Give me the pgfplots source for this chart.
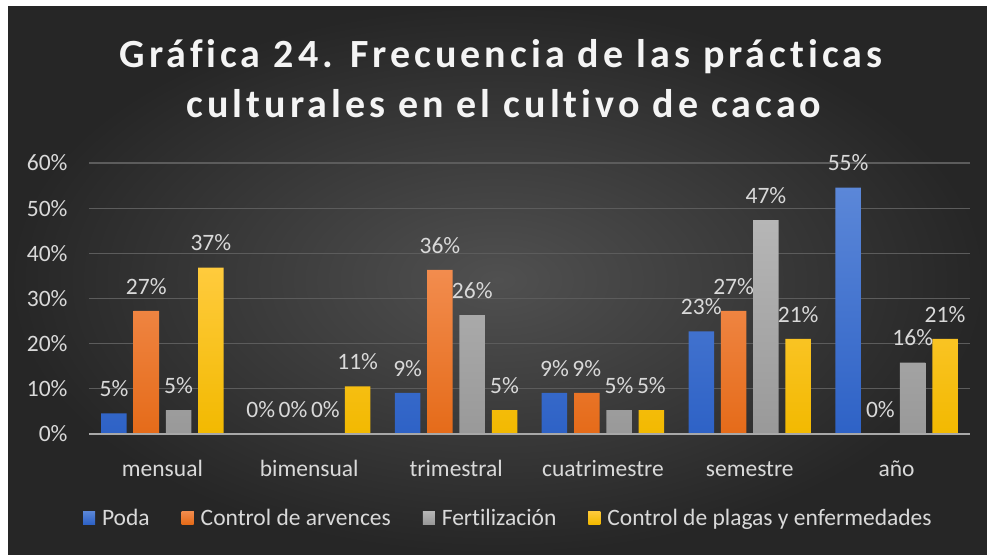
\documentclass[border=0pt]{standalone}
\usepackage{fontspec}
\setmainfont{Carlito}[Ligatures={NoCommon,TeX}]
\usepackage{pgfplots}
\pgfplotsset{compat=1.18}
\definecolor{bgin}{HTML}{505050}
\definecolor{bgout}{HTML}{262626}
\definecolor{gridcol}{HTML}{5C5C5C}
\definecolor{axiscol}{HTML}{A8A8A8}
\definecolor{labcol}{HTML}{D9D9D9}
\definecolor{titlecol}{HTML}{F4F4F4}
\definecolor{podatop}{HTML}{5B87D8}
\definecolor{podabot}{HTML}{2E62C6}
\definecolor{podamid}{HTML}{4472C4}
\definecolor{arvtop}{HTML}{F28C4E}
\definecolor{arvbot}{HTML}{E56B19}
\definecolor{arvmid}{HTML}{ED7D31}
\definecolor{fertop}{HTML}{B6B6B6}
\definecolor{ferbot}{HTML}{999999}
\definecolor{fermid}{HTML}{A5A5A5}
\definecolor{platop}{HTML}{FFCB3D}
\definecolor{plabot}{HTML}{F2B900}
\definecolor{plamid}{HTML}{FFC000}
\begin{document}
\begin{tikzpicture}
\fill[white] (0pt,0pt) rectangle (987pt,-554pt);
\shade[inner color=bgin, outer color=bgout] (8pt,-6pt) rectangle (987pt,-554pt);
\node[anchor=base, text=titlecol, font=\fontsize{40}{48}\selectfont\bfseries\addfontfeatures{LetterSpace=10}] at (501pt,-67pt) {Gráfica 24. Frecuencia de las prácticas};
\node[anchor=base, text=titlecol, font=\fontsize{40}{48}\selectfont\bfseries\addfontfeatures{LetterSpace=10}] at (504pt,-117pt) {culturales en el cultivo de cacao};
\begin{axis}[
  at={(89pt,-434pt)}, anchor=south west,
  scale only axis, width=881pt, height=271pt,
  xmin=-0.5, xmax=5.5, ymin=0, ymax=60,
  ytick={0,10,20,30,40,50,60},
  yticklabels={0\%,10\%,20\%,30\%,40\%,50\%,60\%},
  xtick={0,1,2,3,4,5},
  xticklabels={mensual,bimensual,trimestral,cuatrimestre,semestre,año},
  ybar=6.8pt, bar width=25.5pt,
  axis line style={draw=none}, major tick style={draw=none},
  ymajorgrids, grid style={gridcol, line width=1.3pt},
  tick label style={text=labcol, font=\fontsize{23.5}{28}\selectfont},
  yticklabel style={xshift=-18pt},
  xticklabel style={anchor=base, yshift=-38pt},
  nodes near coords={\pgfmathprintnumber[fixed,precision=0,assume math mode=true]{\pgfplotspointmeta}\%},
  every node near coord/.append style={text=labcol, font=\fontsize{23.5}{28}\selectfont, yshift=13pt},
  legend columns=4,
  legend style={at={(0.476,-0.31)}, anchor=center, draw=none, fill=none, text=labcol,
    font=\fontsize{23.5}{28}\selectfont,
    /tikz/every even column/.append style={column sep=30pt}},
]
\addplot[draw=none, top color=podatop, bottom color=podabot,
  legend image code/.code={\fill[podamid] (0pt,-6pt) rectangle (12pt,7pt);\path (0pt,0pt) -- (17pt,0pt);}]
  coordinates {(0,4.545) (1,0) (2,9.091) (3,9.091) (4,22.727) (5,54.545)};
\addlegendentry{Poda}
\addplot[draw=none, top color=arvtop, bottom color=arvbot,
  legend image code/.code={\fill[arvmid] (0pt,-6pt) rectangle (12pt,7pt);\path (0pt,0pt) -- (17pt,0pt);}]
  coordinates {(0,27.273) (1,0) (2,36.364) (3,9.091) (4,27.273) (5,0)};
\addlegendentry{Control de arvences}
\addplot[draw=none, top color=fertop, bottom color=ferbot,
  legend image code/.code={\fill[fermid] (0pt,-6pt) rectangle (12pt,7pt);\path (0pt,0pt) -- (17pt,0pt);}]
  coordinates {(0,5.263) (1,0) (2,26.316) (3,5.263) (4,47.368) (5,15.789)};
\addlegendentry{Fertilización}
\addplot[draw=none, top color=platop, bottom color=plabot,
  legend image code/.code={\fill[plamid] (0pt,-6pt) rectangle (12pt,7pt);\path (0pt,0pt) -- (17pt,0pt);}]
  coordinates {(0,36.842) (1,10.526) (2,5.263) (3,5.263) (4,21.053) (5,21.053)};
\addlegendentry{Control de plagas y enfermedades}
\draw[axiscol, line width=2pt] (axis cs:-0.5,0) -- (axis cs:5.5,0);
\end{axis}
\pgfresetboundingbox
\path (0pt,0pt) rectangle (987pt,-554pt);
\end{tikzpicture}
\end{document}
